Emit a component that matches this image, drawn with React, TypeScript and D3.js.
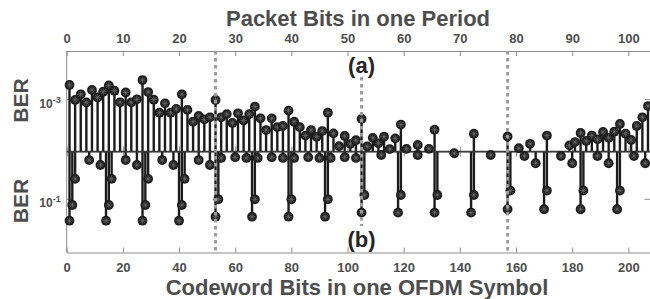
import React, { useEffect, useRef } from "react";
import * as d3 from "d3";

// BER per packet bit (bits 1..104); null = below the axis, not drawn
const packetBer: (number | null)[] = [
  1.95e-3, 0.98e-3, 1.27e-3, 0.87e-3, 1.55e-3, 1.10e-3, 1.43e-3, 1.91e-3, 1.50e-3, 0.88e-3,
  1.38e-3, 0.88e-3, 1.01e-3, 2.45e-3, 1.41e-3, 0.99e-3, 0.545e-3, 0.84e-3, 0.545e-3, 0.65e-3,
  1.27e-3, 0.62e-3, 0.36e-3, 0.47e-3, 0.40e-3, 0.44e-3, 0.98e-3, 0.44e-3, 0.51e-3, 0.34e-3,
  0.53e-3, 0.38e-3, 0.51e-3, 0.72e-3, 0.42e-3, 0.245e-3, 0.42e-3, 0.28e-3, 0.295e-3, 0.60e-3,
  0.36e-3, 0.28e-3, 0.19e-3, 0.245e-3, 0.18e-3, 0.234e-3, 0.545e-3, 0.21e-3, 0.117e-3, 0.186e-3,
  0.13e-3, 0.153e-3, 0.41e-3, 0.115e-3, 0.171e-3, 0.133e-3, 0.18e-3, 0.102e-3, 0.167e-3, 0.315e-3,
  0.103e-3, null, 0.123e-3, null, 0.103e-3, 0.249e-3, null, null, null, null,
  null, null, 0.207e-3, null, null, null, null, null, 0.182e-3, null,
  0.106e-3, null, 0.13e-3, null, null, 0.19e-3, null, null, null, 0.121e-3,
  0.141e-3, 0.214e-3, 0.148e-3, 0.19e-3, 0.16e-3, 0.224e-3, 0.171e-3, 0.227e-3, 0.324e-3, 0.207e-3,
  0.155e-3, 0.295e-3, 0.44e-3, 0.74e-3,
];

// codeword bit positions that carry a visible BER, and their BER
const codewordBits = [
  1, 2, 3, 8, 12, 14, 15, 16, 21, 25, 27, 28, 29, 34, 38, 40, 41, 42, 47, 51,
  53, 54, 55, 60, 64, 66, 67, 68, 73, 77, 79, 80, 81, 86, 90, 92, 93, 94, 99, 103,
  105, 106, 112, 118, 119, 125, 131, 132, 138, 144, 145, 151,
  157, 158, 163, 167, 170, 171, 176, 180, 183, 184, 189, 193, 196, 197, 202, 206,
];
const codewordBer = [
  0.268, 0.13, 0.039, 0.0164, 0.0206, 0.268, 0.13, 0.039, 0.0164, 0.0206,
  0.268, 0.13, 0.039, 0.0164, 0.0206, 0.268, 0.13, 0.039, 0.0164, 0.0206,
  0.223, 0.1, 0.0149, 0.0144, 0.0149, 0.223, 0.1, 0.0149, 0.0144, 0.0149,
  0.223, 0.1, 0.0149, 0.0144, 0.0149, 0.223, 0.1, 0.0149, 0.0144, 0.0149,
  0.185, 0.082, 0.013, 0.185, 0.082, 0.013, 0.185, 0.082, 0.012, 0.185, 0.082, 0.013,
  0.158, 0.067, 0.0136, 0.019, 0.158, 0.067, 0.0136, 0.019,
  0.158, 0.067, 0.0136, 0.019, 0.158, 0.067, 0.0136, 0.019,
];

const dividerBits = [53, 105, 157];
const packetTicks = [0, 10, 20, 30, 40, 50, 60, 70, 80, 90, 100];
const codewordTicks = [0, 20, 40, 60, 80, 100, 120, 140, 160, 180, 200];

const FONT = "'Liberation Sans', Arial, sans-serif";
const TEXT = "#4d4d4d";
const AXIS = "#8c8c8c";
const INK = "#1c1c1c";

const App = () => {
  const svgRef = useRef<SVGSVGElement>(null);

  useEffect(() => {
    const left = 66.7, right = 650.8, top = 51, mid = 151.5, bottom = 252.5;

    const xCw = d3.scaleLinear().domain([0, 208]).range([left, right]);
    const xPk = d3.scaleLinear().domain([0, 104]).range([left, right]);
    const yTop = d3.scaleLog().domain([10 ** -4.04, 10 ** -2.03]).range([mid, top]);
    const yBot = d3.scaleLog().domain([10 ** -1.956, 10 ** 0.064]).range([mid, bottom]);

    const svg = d3.select(svgRef.current);
    svg.selectAll("*").remove();

    const styleAxis = (g: any) => {
      g.select(".domain").attr("stroke", AXIS);
      g.selectAll(".tick line").attr("stroke", AXIS);
      g.selectAll(".tick text")
        .attr("fill", TEXT)
        .attr("font-size", 13)
        .attr("font-weight", "bold")
        .attr("font-family", FONT);
    };

    // frame + ticks
    svg.append("g")
      .attr("transform", `translate(0,${top})`)
      .call(d3.axisTop(xPk).tickValues(packetTicks).tickSizeInner(-5).tickSizeOuter(0).tickPadding(8))
      .call(styleAxis);
    svg.append("g")
      .attr("transform", `translate(0,${bottom})`)
      .call(d3.axisBottom(xCw).tickValues(codewordTicks).tickSizeInner(-5).tickSizeOuter(0).tickPadding(10))
      .call(styleAxis);
    svg.append("g")
      .attr("transform", `translate(0,${mid})`)
      .call(d3.axisBottom(xPk).tickValues(packetTicks).tickSizeInner(-5).tickSizeOuter(0).tickFormat(() => ""))
      .call(styleAxis);
    svg.append("g")
      .attr("transform", `translate(0,${mid})`)
      .call(d3.axisTop(xCw).tickValues(codewordTicks).tickSizeInner(-5).tickSizeOuter(0).tickFormat(() => ""))
      .call(styleAxis);

    svg.append("line")
      .attr("x1", left).attr("x2", left).attr("y1", top).attr("y2", bottom)
      .attr("stroke", AXIS);

    const yTicks = [
      { y: yTop(1e-3), exp: "-3" },
      { y: yBot(1e-1), exp: "-1" },
    ];
    yTicks.forEach(t => {
      svg.append("line").attr("x1", left).attr("x2", left + 5).attr("y1", t.y).attr("y2", t.y).attr("stroke", AXIS);
      svg.append("line").attr("x1", right - 6).attr("x2", right).attr("y1", t.y).attr("y2", t.y).attr("stroke", AXIS);
      const txt = svg.append("text")
        .attr("x", left - 6)
        .attr("y", t.y + 8)
        .attr("text-anchor", "end")
        .attr("fill", TEXT)
        .attr("font-family", FONT)
        .attr("font-weight", "bold")
        .attr("font-size", 12);
      txt.append("tspan").text("10");
      txt.append("tspan").attr("dy", -5).attr("font-size", 9).text(t.exp);
    });

    // stems
    const topPts = packetBer
      .map((v, i) => ({ x: xCw(2 * (i + 1) - 1), v }))
      .filter(d => d.v !== null)
      .map(d => ({ x: d.x, y: yTop(d.v as number) }));
    const botPts = codewordBits.map((b, i) => ({ x: xCw(b), y: yBot(codewordBer[i]) }));
    const pts = topPts.concat(botPts);

    svg.append("g")
      .selectAll("line")
      .data(pts)
      .join("line")
      .attr("x1", d => d.x).attr("x2", d => d.x)
      .attr("y1", mid).attr("y2", d => d.y)
      .attr("stroke", INK)
      .attr("stroke-width", 2.4);

    svg.append("line")
      .attr("x1", left).attr("x2", right).attr("y1", mid).attr("y2", mid)
      .attr("stroke", "#3a3a3a").attr("stroke-width", 1.6);

    const mk = svg.append("g")
      .selectAll("g")
      .data(pts)
      .join("g")
      .attr("transform", d => `translate(${d.x},${d.y})`);
    mk.append("circle").attr("r", 4.9).attr("fill", INK);
    mk.append("path")
      .attr("d", "M-3.4,0H3.4M0,-3.4V3.4M-2.4,-2.4L2.4,2.4M-2.4,2.4L2.4,-2.4")
      .attr("stroke", "#6e6e6e")
      .attr("stroke-width", 0.7);

    // dotted dividers
    dividerBits.forEach((b, i) => {
      svg.append("line")
        .attr("x1", xCw(b)).attr("x2", xCw(b))
        .attr("y1", i === 1 ? 77 : top).attr("y2", i === 1 ? 226 : bottom)
        .attr("stroke", "#9c9c9c")
        .attr("stroke-width", 3)
        .attr("stroke-dasharray", "3.5,3.5");
    });

    const label = (x: number, y: number, s: string, size: number, fill: string, rotate = false) =>
      svg.append("text")
        .attr("transform", `translate(${x},${y})${rotate ? " rotate(-90)" : ""}`)
        .attr("text-anchor", "middle")
        .attr("fill", fill)
        .attr("font-family", FONT)
        .attr("font-weight", "bold")
        .attr("font-size", size)
        .text(s);

    label(xCw(dividerBits[1]), 73, "(a)", 22, "#262626");
    label(xCw(dividerBits[1]), 247, "(b)", 22, "#262626");
    label(358, 26, "Packet Bits in one Period", 22, TEXT);
    label(357, 295, "Codeword Bits in one OFDM Symbol", 22, TEXT);
    label(28.3, 100.5, "BER", 21, TEXT, true);
    label(28.3, 201, "BER", 21, TEXT, true);
  }, []);

  return (
    <svg
      ref={svgRef}
      width={650}
      height={299}
      style={{ position: "absolute", left: 0, top: 0, display: "block", background: "#fff" }}
    />
  );
};

export default App;
